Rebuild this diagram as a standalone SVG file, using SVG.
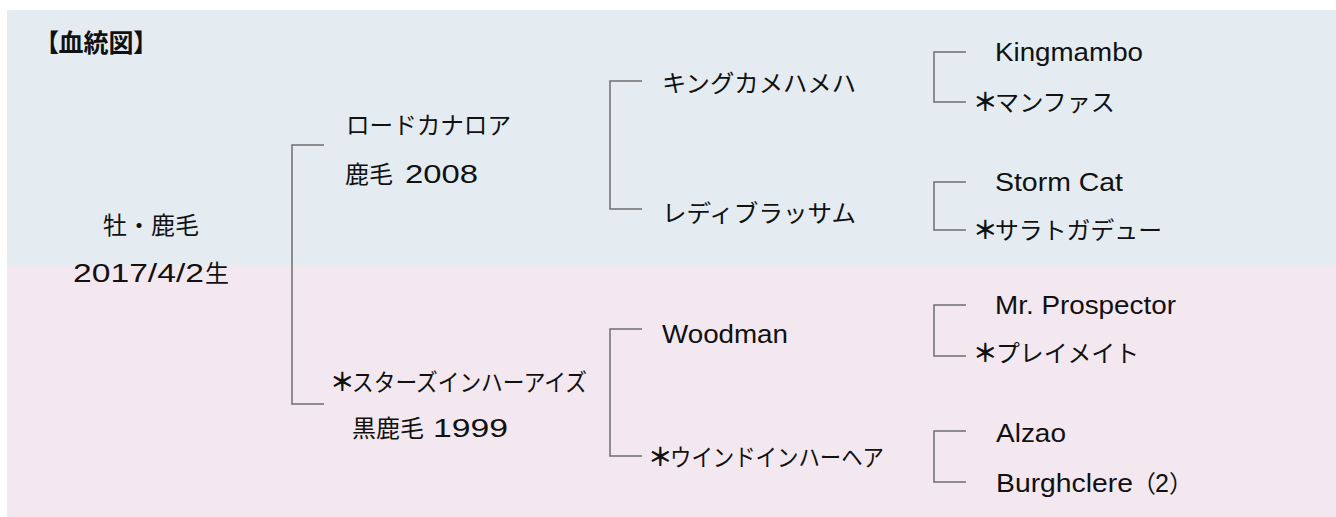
<svg xmlns="http://www.w3.org/2000/svg" width="1336" height="517" viewBox="0 0 1336 517">
<style>
text{font-family:"Liberation Sans","Noto Sans CJK JP",sans-serif;font-size:24px;fill:#111}
.lat{font-size:25px}
.title{font-size:25px;font-weight:700;font-feature-settings:"palt"}
.ast{font-feature-settings:"palt";font-size:25px;font-weight:700}
.br{fill:none;stroke:#6e6e6e;stroke-width:1.5}
</style>
<rect x="7" y="10" width="1329" height="255" fill="#e4ecf2"/>
<rect x="7" y="265" width="1329" height="252" fill="#f3e8ef"/>
<g id="title"><text class="title" x="46" y="52">【血統図】</text></g>
<g id="connectors">
<path class="br" d="M324 145H292V404H324"/>
<path class="br" d="M642 81H610V209H642"/>
<path class="br" d="M642 329H610V456H642"/>
<path class="br" d="M966 52H934V102H966"/>
<path class="br" d="M966 182H934V230H966"/>
<path class="br" d="M966 305H934V356H966"/>
<path class="br" d="M966 431H934V482H966"/>
</g>
<g id="horse"><text x="103" y="234">牡・鹿毛</text><text y="282"><tspan class="lat" x="73" textLength="131" lengthAdjust="spacingAndGlyphs">2017/4/2</tspan><tspan x="205">生</tspan></text></g>
<g id="sire"><text x="346" y="134" textLength="165" lengthAdjust="spacingAndGlyphs">ロードカナロア</text><text y="183"><tspan x="345">鹿毛</tspan><tspan class="lat" x="405" textLength="73" lengthAdjust="spacingAndGlyphs">2008</tspan></text></g>
<g id="dam"><text y="391"><tspan class="ast" x="332">＊</tspan><tspan x="352" textLength="235" lengthAdjust="spacingAndGlyphs">スターズインハーアイズ</tspan></text><text y="437"><tspan x="352">黒鹿毛</tspan><tspan class="lat" x="433" textLength="75" lengthAdjust="spacingAndGlyphs">1999</tspan></text></g>
<g id="ss"><text x="662" y="92" textLength="194" lengthAdjust="spacingAndGlyphs">キングカメハメハ</text></g>
<g id="sd"><text x="662" y="222" textLength="194" lengthAdjust="spacingAndGlyphs">レディブラッサム</text></g>
<g id="ds"><text class="lat" x="662" y="343" textLength="126" lengthAdjust="spacingAndGlyphs">Woodman</text></g>
<g id="dd"><text y="466"><tspan class="ast" x="650">＊</tspan><tspan x="670" textLength="214" lengthAdjust="spacingAndGlyphs">ウインドインハーヘア</tspan></text></g>
<g id="sss"><text class="lat" x="995" y="61" textLength="148" lengthAdjust="spacingAndGlyphs">Kingmambo</text></g>
<g id="ssd"><text y="111"><tspan class="ast" x="975">＊</tspan><tspan x="995" textLength="120" lengthAdjust="spacingAndGlyphs">マンファス</tspan></text></g>
<g id="sds"><text class="lat" x="995" y="191" textLength="128" lengthAdjust="spacingAndGlyphs">Storm Cat</text></g>
<g id="sdd"><text y="239"><tspan class="ast" x="975">＊</tspan><tspan x="995" textLength="167" lengthAdjust="spacingAndGlyphs">サラトガデュー</tspan></text></g>
<g id="dss"><text class="lat" x="995" y="314" textLength="181" lengthAdjust="spacingAndGlyphs">Mr. Prospector</text></g>
<g id="dsd"><text y="362"><tspan class="ast" x="975">＊</tspan><tspan x="996" textLength="143" lengthAdjust="spacingAndGlyphs">プレイメイト</tspan></text></g>
<g id="dds"><text class="lat" x="996" y="442" textLength="70" lengthAdjust="spacingAndGlyphs">Alzao</text></g>
<g id="ddd"><text y="492"><tspan class="lat" x="996" textLength="137" lengthAdjust="spacingAndGlyphs">Burghclere</tspan><tspan x="1132">（</tspan><tspan class="lat" x="1155">2</tspan><tspan x="1169">）</tspan></text></g>
</svg>
